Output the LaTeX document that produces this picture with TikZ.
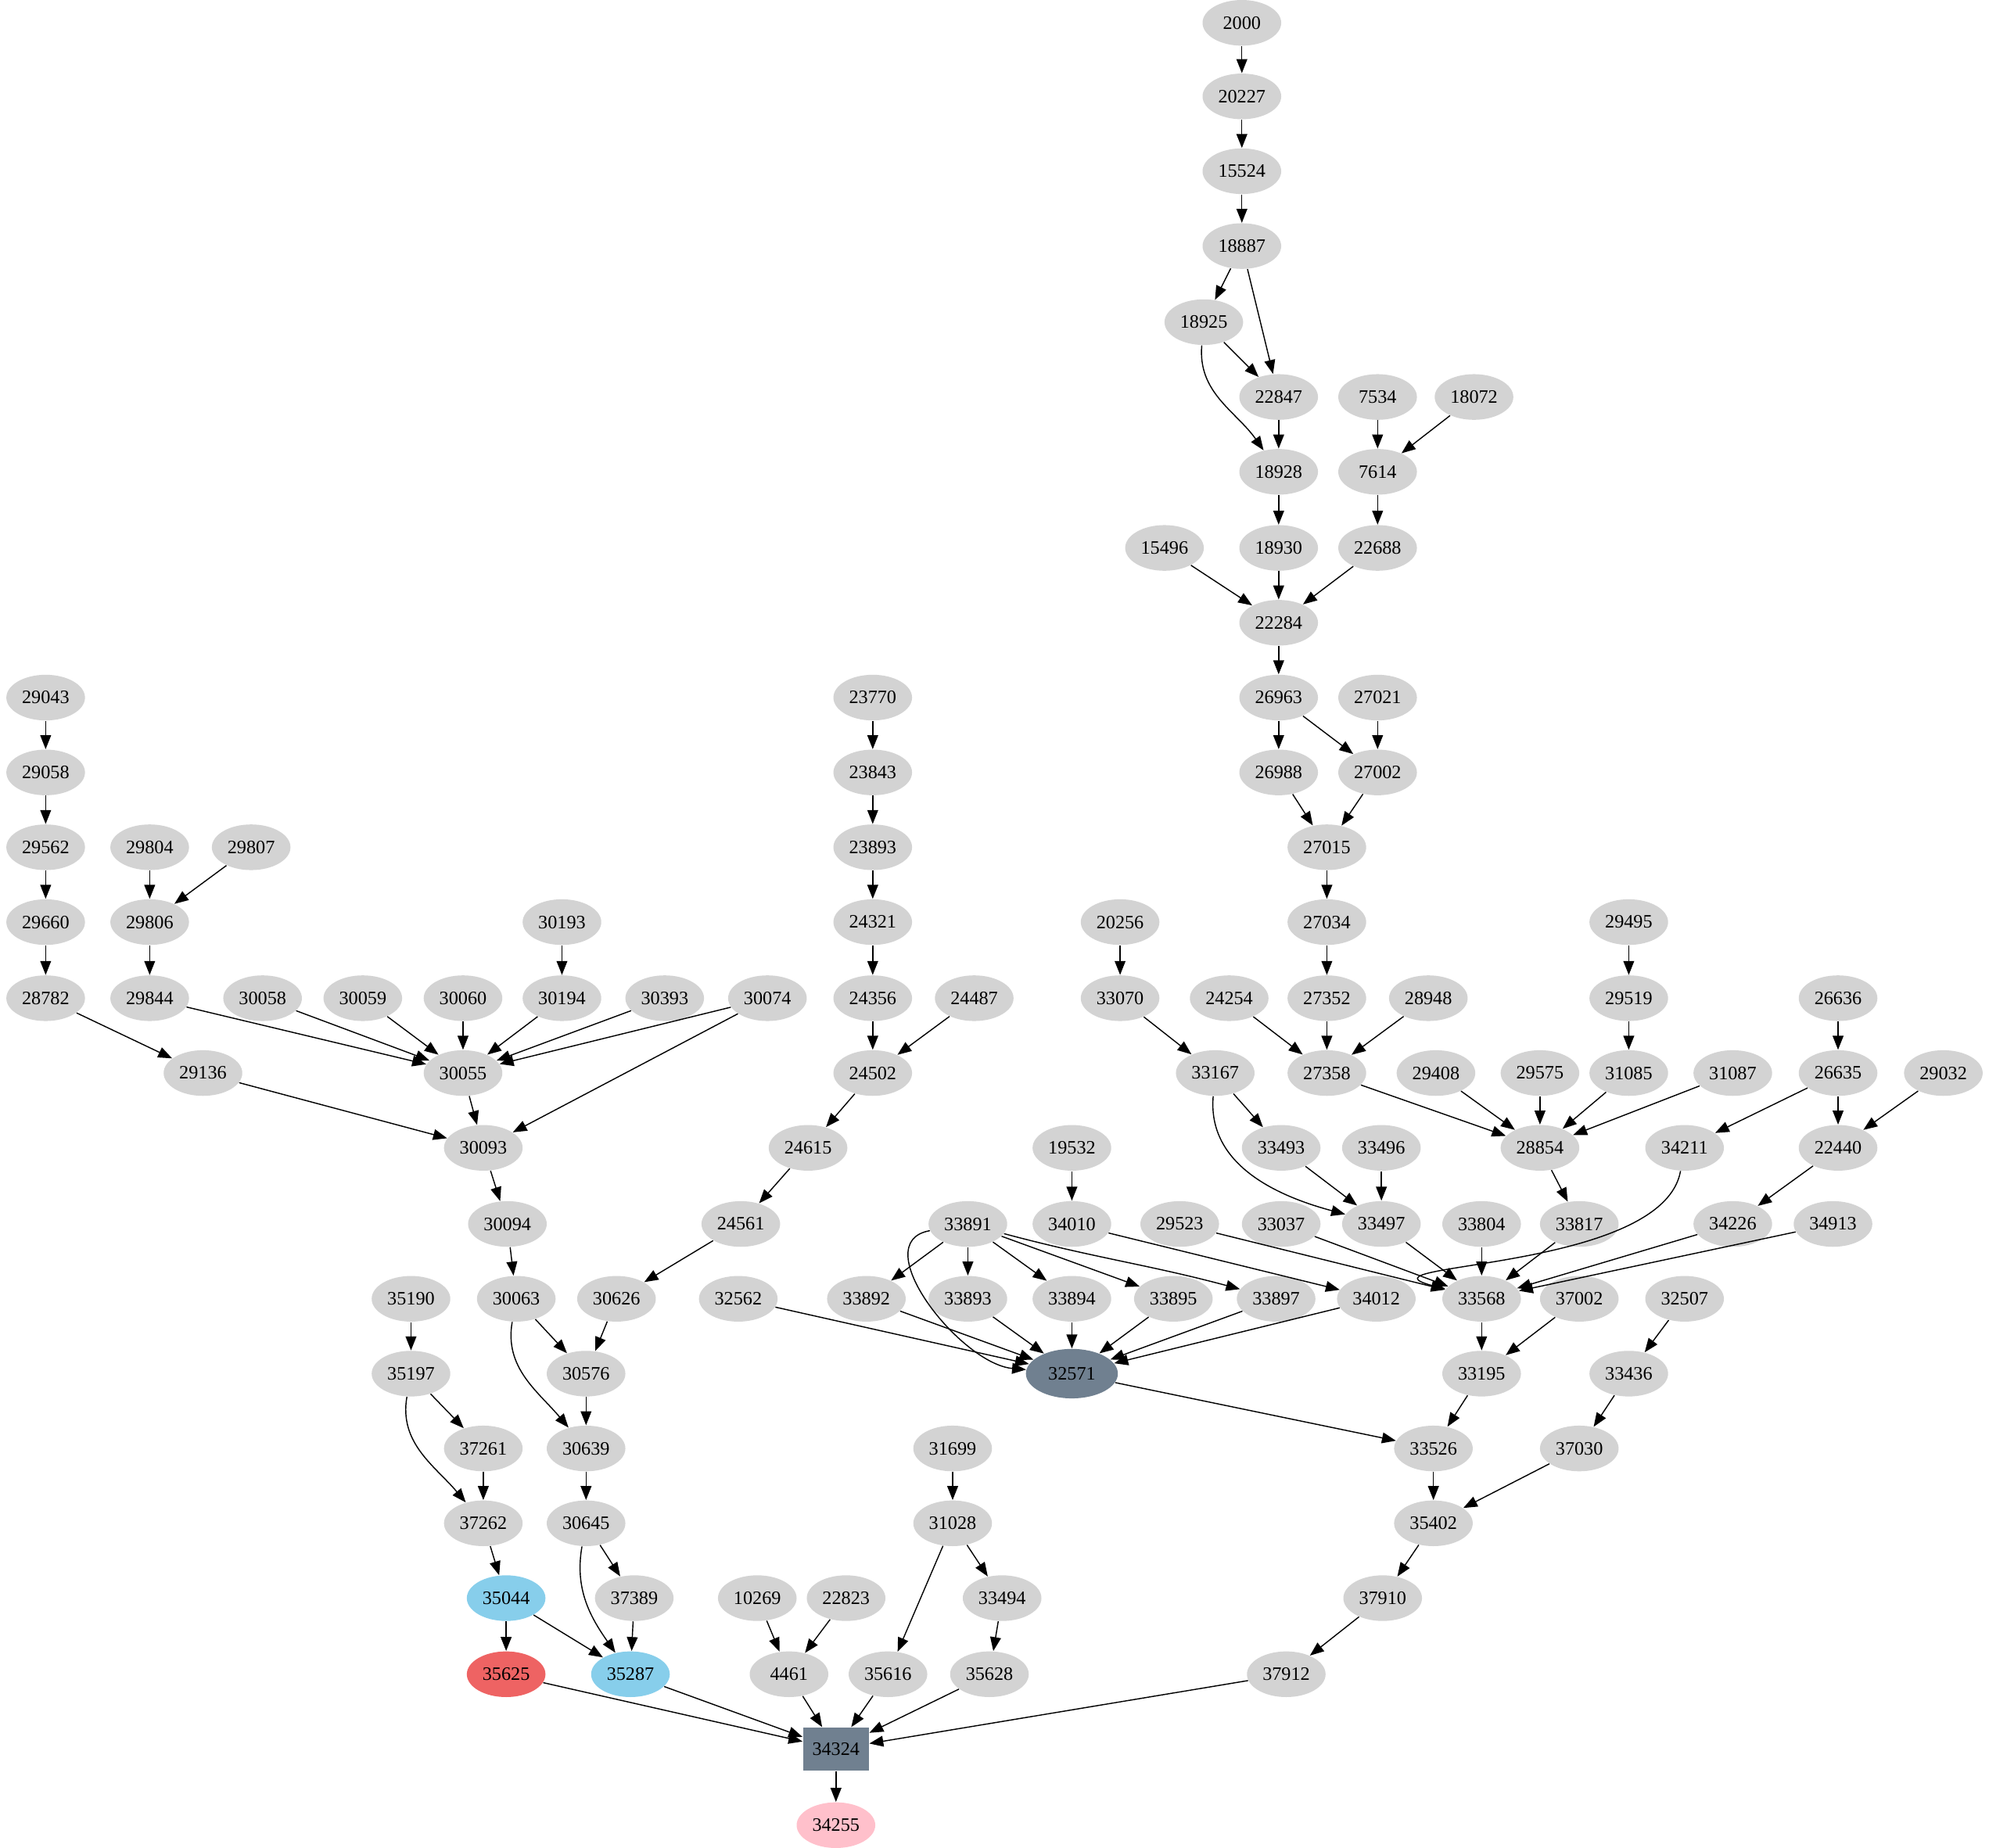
\documentclass[tikz,border=0pt]{standalone}
\usepackage{fontspec}
\setmainfont{Liberation Serif}
\usetikzlibrary{arrows.meta,shapes.geometric}
\definecolor{lg}{HTML}{D3D3D3}
\definecolor{sg}{HTML}{708090}
\definecolor{sb}{HTML}{87CEEB}
\definecolor{ir}{HTML}{EE6363}
\definecolor{pk}{HTML}{FFC0CB}
\begin{document}
\begin{tikzpicture}[x=0.02cm,y=-0.02cm,
 nd/.style={ellipse,fill=lg,minimum width=1.24cm,minimum height=0.72cm,inner sep=0pt,font=\fontsize{8.5}{10}\selectfont},
 ed/.style={-{Triangle[length=2.2mm,width=1.7mm]},black,line width=0.5pt}]
\useasboundingbox (0,0) rectangle (1568,1457);
\foreach \n/\x/\y in {2000/979/18,20227/979/76,15524/979/135,18887/979/194,18925/949/254,22847/1008/313,7534/1086/313,18072/1162/313,
18928/1008/372,7614/1086/372,15496/918/432,18930/1008/432,22688/1086/432,22284/1008/491,26963/1008/550,27021/1086/550,26988/1008/609,27002/1086/609,
27015/1046/668,27034/1046/727,27352/1046/787,24254/969/787,28948/1126/787,20256/883/727,33070/883/787,27358/1046/846,33167/958/846,
29495/1284/727,29519/1284/787,31085/1284/846,31087/1366/846,29408/1132/846,29575/1214/846,26636/1449/787,26635/1449/846,29032/1532/846,
28854/1214/905,34211/1328/905,22440/1449/905,33493/1010/905,33496/1089/905,19532/845/905,33497/1089/965,34010/845/965,29523/930/965,
33037/1010/965,33804/1168/965,33817/1245/965,34226/1366/965,34913/1445/965,33891/763/965,33568/1168/1024,37002/1245/1024,32507/1328/1024,
33892/683/1024,33893/763/1024,33894/845/1024,33895/925/1024,33897/1006/1024,34012/1085/1024,32562/582/1024,33195/1168/1083,33436/1284/1083,
33526/1130/1142,37030/1245/1142,35402/1130/1201,37910/1090/1260,37912/1014/1320,31699/751/1142,31028/751/1201,33494/790/1260,35628/780/1320,
35616/700/1320,10269/597/1260,22823/667/1260,4461/622/1320,
29043/36/550,29058/36/609,29562/36/668,29660/36/727,28782/36/787,29804/118/668,29807/198/668,29806/118/727,29844/118/787,30058/207/787,
30059/286/787,30060/365/787,30193/443/727,30194/443/787,30393/524/787,30074/605/787,30055/365/846,29136/160/846,30093/381/905,30094/400/965,
30063/407/1024,23770/688/550,23843/688/609,23893/688/668,24321/688/727,24356/688/787,24487/768/787,24502/688/846,24615/637/905,24561/584/965,
30626/486/1024,30576/462/1083,30639/462/1142,30645/462/1201,37389/500/1260,35190/324/1024,35197/324/1083,37261/381/1142,37262/381/1201}
 {\node[nd] (n\n) at (\x,\y) {\n};}
\node[nd,fill=sg,minimum width=1.45cm,minimum height=0.78cm] (n32571) at (845,1083) {32571};
\node[nd,fill=sb] (n35287) at (497,1320) {35287};
\node[nd,fill=sb] (n35044) at (399,1260) {35044};
\node[nd,fill=ir] (n35625) at (399,1320) {35625};
\node[nd,fill=pk] (n34255) at (659,1439) {34255};
\node[rectangle,fill=sg,minimum width=1.04cm,minimum height=0.68cm,inner sep=0pt,font=\fontsize{8.5}{10}\selectfont] (n34324) at (659,1379) {34324};
\foreach \a/\b in {2000/20227,20227/15524,15524/18887,18887/18925,18887/22847,18925/22847,22847/18928,7534/7614,18072/7614,18928/18930,7614/22688,
15496/22284,18930/22284,22688/22284,22284/26963,26963/26988,26963/27002,27021/27002,26988/27015,27002/27015,27015/27034,27034/27352,
24254/27358,27352/27358,28948/27358,20256/33070,33070/33167,33167/33493,33493/33497,33496/33497,29495/29519,29519/31085,
27358/28854,29408/28854,29575/28854,31085/28854,31087/28854,26636/26635,26635/34211,26635/22440,29032/22440,22440/34226,28854/33817,
19532/34010,34010/34012,33497/33568,29523/33568,33037/33568,33804/33568,33817/33568,34226/33568,34913/33568,
33891/33892,33891/33893,33891/33894,33891/33895,32562/32571,33892/32571,33893/32571,33894/32571,33895/32571,33897/32571,34012/32571,
32571/33526,33568/33195,37002/33195,33195/33526,32507/33436,33436/37030,33526/35402,37030/35402,35402/37910,37910/37912,37912/34324,
31699/31028,31028/33494,33494/35628,31028/35616,10269/4461,22823/4461,4461/34324,35616/34324,35628/34324,35625/34324,35287/34324,34324/34255,
29043/29058,29058/29562,29562/29660,29660/28782,28782/29136,29804/29806,29807/29806,29806/29844,30193/30194,
29844/30055,30058/30055,30059/30055,30060/30055,30194/30055,30393/30055,30074/30055,30074/30093,30055/30093,29136/30093,30093/30094,30094/30063,
23770/23843,23843/23893,23893/24321,24321/24356,24356/24502,24487/24502,24502/24615,24615/24561,24561/30626,30626/30576,30063/30576,
30576/30639,30639/30645,30645/37389,37389/35287,35044/35287,35044/35625,35190/35197,35197/37261,37261/37262,37262/35044}
 {\draw[ed] (n\a) -- (n\b);}
\draw[ed] (n18925) to[out=-95,in=125] (n18928);
\draw[ed] (n33167) to[out=-95,in=165] (n33497);
\draw[ed] (n33891) to[out=190,in=175] (n32571);
\draw[ed] (n33891) to[out=-15,in=165] (n33897);
\draw[ed] (n34211) to[out=-100,in=165] (n33568);
\draw[ed] (n30063) to[out=-100,in=130] (n30639);
\draw[ed] (n35197) to[out=-100,in=130] (n37262);
\draw[ed] (n30645) to[out=-100,in=125] (n35287);
\end{tikzpicture}
\end{document}
